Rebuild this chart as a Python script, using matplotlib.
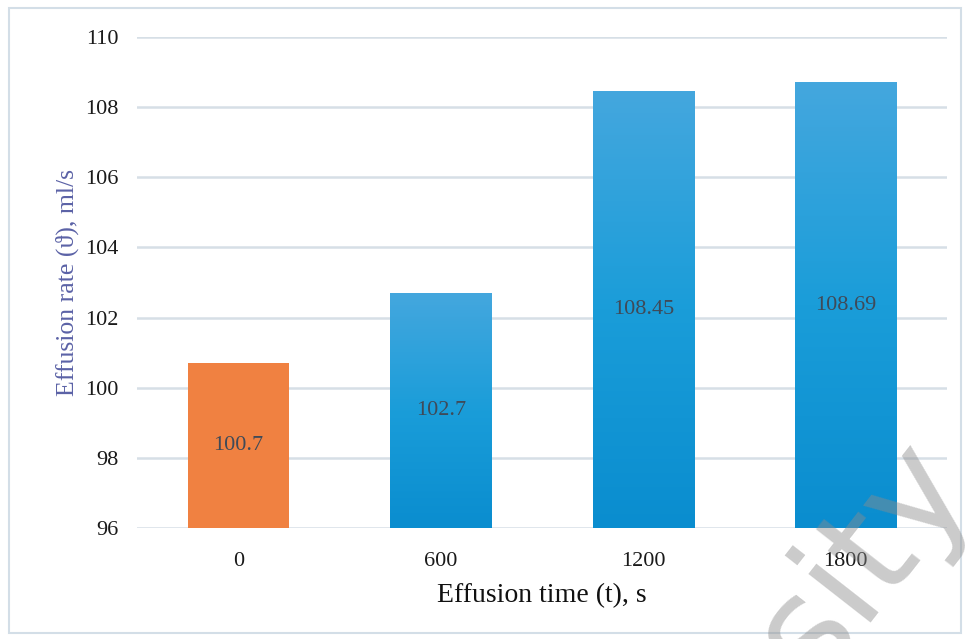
import matplotlib
matplotlib.use("Agg")
import matplotlib.pyplot as plt
import numpy as np
from matplotlib.patches import Rectangle
from matplotlib.colors import LinearSegmentedColormap

categories = ["0", "600", "1200", "1800"]
values = [100.7, 102.7, 108.45, 108.69]
labels = ["100.7", "102.7", "108.45", "108.69"]
yticks = [96, 98, 100, 102, 104, 106, 108, 110]

serif = ["Liberation Serif", "DejaVu Serif"]
plt.rcParams["font.family"] = serif

W, H = 965, 639
fig = plt.figure(figsize=(W / 100, H / 100), dpi=100)
ax = fig.add_axes([137 / W, 1 - 528 / H, 810 / W, 491 / H])

ymin, ymax = 96, 110
ax.set_ylim(ymin, ymax)
ax.set_xlim(-0.5, 3.5)
ax.set_yticks(yticks)
ax.set_xticks(range(len(categories)))
ax.set_xticklabels(categories)
for s in ax.spines.values():
    s.set_visible(False)
ax.tick_params(length=0)
ax.tick_params(axis="y", pad=13.5, labelsize=16, labelcolor="#1a1a1a")
ax.tick_params(axis="x", pad=17, labelsize=16, labelcolor="#1a1a1a")
ax.grid(axis="y", color="#d6dfe6", linewidth=1.8)
ax.set_axisbelow(True)

blue_cmap = LinearSegmentedColormap.from_list("b", ["#0a8dcf", "#1a9dd9", "#44a7de"])
width = 0.5
for i, v in enumerate(values):
    x0 = i - width / 2
    if i == 0:
        ax.add_patch(Rectangle((x0, ymin), width, v - ymin, facecolor="#f08141",
                               edgecolor="none", zorder=2))
    else:
        grad = np.linspace(0, 1, 256).reshape(-1, 1)
        ax.imshow(grad, cmap=blue_cmap, origin="lower", aspect="auto",
                  extent=[x0, x0 + width, ymin, v], zorder=2)
    ax.text(i, (ymin + v) / 2, labels[i], ha="center", va="center",
            fontsize=16, color="#3f4a58", zorder=3)
ax.set_xlim(-0.5, 3.5)
ax.set_ylim(ymin, ymax)

ax.set_xlabel("Effusion time (t), s", fontsize=20, color="#111111", labelpad=9)
ax.set_ylabel("Effusion rate (ϑ), ml/s", fontsize=18.5, color="#5b62a6", labelpad=4)

# figure frame
fig.add_artist(Rectangle((9 / W, 1 - 633 / H), (961 - 9) / W, (633 - 8) / H,
                         transform=fig.transFigure, fill=False,
                         edgecolor="#d3dee7", linewidth=1.5))

# watermark
fig.text(862 / W, 1 - 560 / H, "sity", fontsize=104, fontweight="normal",
         family="DejaVu Sans", color="#8c8c8c", alpha=0.45, rotation=52,
         ha="center", va="center", zorder=10)

fig.savefig("out.png", dpi=100)
